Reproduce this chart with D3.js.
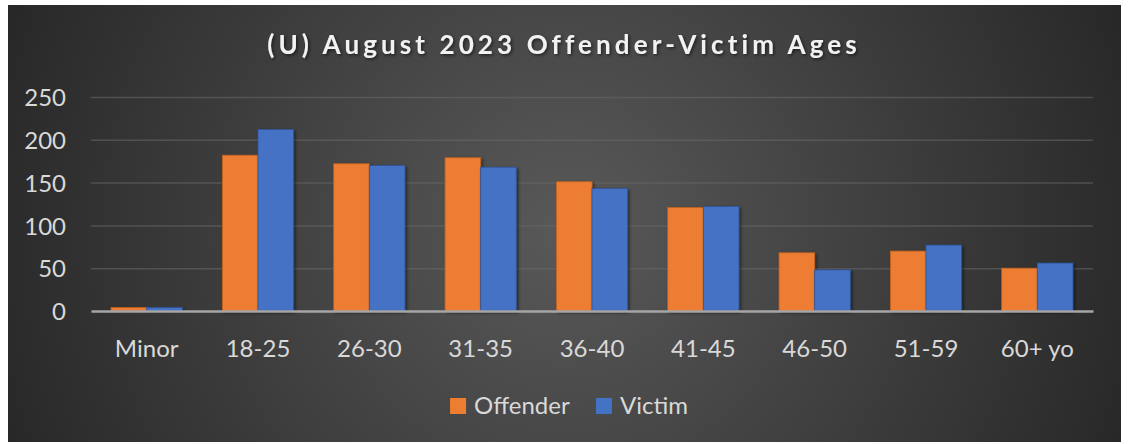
<!DOCTYPE html>
<html>
<head>
<meta charset="utf-8">
<script src="https://cdn.jsdelivr.net/npm/d3@7"></script>
<style>
  body { margin: 0; background: #fff; }
  svg { display: block; font-family: Lato, "Open Sans", sans-serif; }
</style>
</head>
<body>
<svg width="1128" height="444"></svg>
<script>
// Chart data
const categories = ["Minor", "18-25", "26-30", "31-35", "36-40", "41-45", "46-50", "51-59", "60+ yo"];
const seriesNames = ["Offender", "Victim"];
const offender = [4, 182, 172, 179, 151, 121, 68, 70, 50];
const victim = [4, 212, 170, 168, 143, 122, 48, 77, 56];
const yTicks = [0, 50, 100, 150, 200, 250];
const title = "(U) August 2023 Offender-Victim Ages";

const colors = { Offender: "#ED7D31", Victim: "#4472C4" };
const strokes = { Offender: "#C0611F", Victim: "#2F559A" };

var svg = d3.select("svg"),
    box = {x: 8, y: 5, w: 1113, h: 437},
    plot = {left: 91, right: 1093, top: 97, bottom: 311};

// Background with radial gradient
var defs = svg.append("defs");
var grad = defs.append("radialGradient")
    .attr("id", "bg")
    .attr("gradientUnits", "userSpaceOnUse")
    .attr("cx", 565).attr("cy", 230).attr("r", 620);
grad.append("stop").attr("offset", "0%").attr("stop-color", "#595959");
grad.append("stop").attr("offset", "100%").attr("stop-color", "#262626");

var shadow = defs.append("filter").attr("id", "shadow")
    .attr("x", "-10%").attr("y", "-10%").attr("width", "130%").attr("height", "130%");
shadow.append("feDropShadow")
    .attr("dx", 1.5).attr("dy", 1.5).attr("stdDeviation", 1.5)
    .attr("flood-color", "#000").attr("flood-opacity", 0.55);

svg.append("rect")
    .attr("x", box.x).attr("y", box.y)
    .attr("width", box.w).attr("height", box.h)
    .attr("fill", "url(#bg)");

// Scales
var x0 = d3.scaleBand().domain(categories).range([plot.left, plot.right]);
var groupW = x0.bandwidth() * 0.64;
var x1 = d3.scaleBand().domain(seriesNames).range([0, groupW]);
var y = d3.scaleLinear().domain([0, 250]).range([plot.bottom, plot.top]);

// Gridlines
svg.append("g")
    .attr("class", "grid")
    .attr("transform", "translate(" + plot.left + ",0)")
    .call(d3.axisLeft(y).tickValues(yTicks.slice(1)).tickSize(-(plot.right - plot.left)).tickFormat(""))
    .call(g => g.select(".domain").remove())
    .call(g => g.selectAll("line").attr("stroke", "#6a6a6a").attr("stroke-opacity", 0.55).attr("stroke-width", 1.5));

// Y axis labels
svg.append("g")
    .attr("transform", "translate(" + plot.left + ",0)")
    .call(d3.axisLeft(y).tickValues(yTicks).tickSize(0).tickPadding(25))
    .call(g => g.select(".domain").remove())
    .call(g => g.selectAll("text")
        .attr("fill", "#D9D9D9")
        .attr("font-size", 24)
        .attr("font-family", "Lato, sans-serif")
        .attr("dy", "0.36em"));

// Bars
var data = categories.map((c, i) => ({cat: c, values: [
    {name: "Offender", value: offender[i]},
    {name: "Victim", value: victim[i]}
]}));

var groups = svg.append("g").selectAll("g")
    .data(data)
    .enter().append("g")
    .attr("transform", d => "translate(" + (x0(d.cat) + (x0.bandwidth() - groupW) / 2) + ",0)");

groups.selectAll("rect")
    .data(d => d.values)
    .enter().append("rect")
    .attr("x", d => x1(d.name))
    .attr("y", d => y(d.value))
    .attr("width", x1.bandwidth())
    .attr("height", d => y(0) - y(d.value))
    .attr("fill", d => colors[d.name])
    .attr("stroke", d => strokes[d.name])
    .attr("stroke-width", 0.8)
    .attr("filter", "url(#shadow)");

// X axis
svg.append("g")
    .attr("transform", "translate(0," + plot.bottom + ")")
    .call(d3.axisBottom(x0).tickSize(0))
    .call(g => g.select(".domain")
        .attr("stroke", "#A6A6A6").attr("stroke-width", 2.5))
    .call(g => g.selectAll("text")
        .attr("fill", "#D9D9D9")
        .attr("font-size", 24)
        .attr("font-family", "Lato, sans-serif")
        .attr("y", 46).attr("dy", 0));

// Title
svg.append("text")
    .attr("x", 564).attr("y", 54)
    .attr("text-anchor", "middle")
    .attr("fill", "#F2F2F2")
    .attr("font-size", 26)
    .attr("font-weight", "bold")
    .attr("letter-spacing", 4.1)
    .attr("filter", "url(#shadow)")
    .text(title);

// Legend
var legend = svg.append("g");
var items = legend.selectAll("g")
    .data(seriesNames)
    .enter().append("g");
items.append("rect")
    .attr("width", 16).attr("height", 16)
    .attr("y", 398)
    .attr("fill", d => colors[d]);
items.append("text")
    .attr("x", 24).attr("y", 414)
    .attr("fill", "#D9D9D9")
    .attr("font-size", 24)
    .text(d => d);

var gap = 26, offs = 0, positions = [];
items.each(function() {
    positions.push(offs);
    offs += this.getBBox().width + gap;
});
offs -= gap;
var start = 569 - offs / 2;
items.attr("transform", (d, i) => "translate(" + (start + positions[i]) + ",0)");
</script>
</body>
</html>
